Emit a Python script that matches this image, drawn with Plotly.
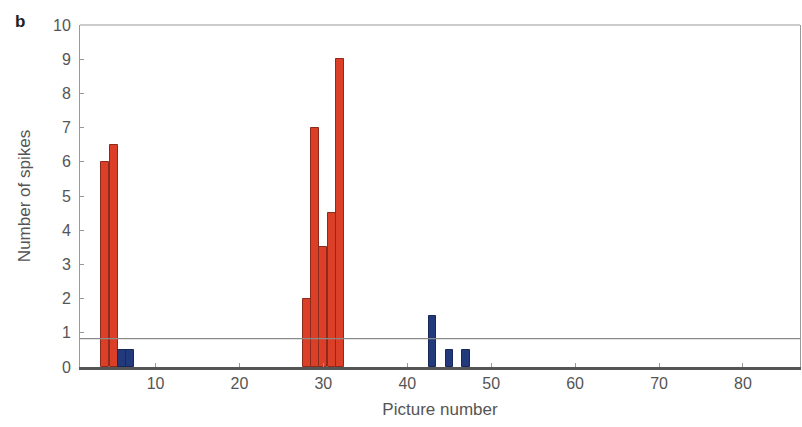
import plotly.graph_objects as go

red_x = [4, 5, 28, 29, 30, 31, 32]
red_y = [6, 6.5, 2, 7, 3.5, 4.5, 9]
blue_x = [6, 7, 43, 45, 47]
blue_y = [0.5, 0.5, 1.5, 0.5, 0.5]
blue_w = [0.95, 0.95, 0.75, 0.85, 0.85]
threshold = 0.83
x_ticks = [10, 20, 30, 40, 50, 60, 70, 80]
y_ticks = list(range(0, 11))

fig = go.Figure()
fig.add_trace(go.Bar(x=red_x, y=red_y, width=0.97,
                     marker=dict(color="#dc3f28", line=dict(color="#8c2a1c", width=1))))
fig.add_trace(go.Bar(x=blue_x, y=blue_y, width=blue_w,
                     marker=dict(color="#22397c", line=dict(color="#18285a", width=1))))

fig.add_hline(y=threshold, line=dict(color="#8a8a8a", width=1.2))
fig.add_shape(type="line", xref="paper", yref="paper", x0=0, x1=1, y0=1, y1=1,
              line=dict(color="#999999", width=1))

tick_font = dict(family="Liberation Sans, Arial, sans-serif", size=16, color="#555555")
title_font = dict(family="Liberation Sans, Arial, sans-serif", size=17, color="#555555")
fig.update_layout(
    width=802, height=427,
    margin=dict(l=80, r=2, t=25, b=60, autoexpand=False),
    paper_bgcolor="white", plot_bgcolor="white",
    showlegend=False, barmode="overlay", bargap=0,
    font=tick_font,
    xaxis=dict(range=[1, 86.8], tickvals=x_ticks, ticks="inside", ticklen=4,
               tickcolor="#999999", showgrid=False, zeroline=False, automargin=False,
               showline=True, linecolor="#555555", linewidth=3,
               title=dict(text="Picture number", standoff=12, font=title_font), tickfont=tick_font),
    yaxis=dict(range=[0, 10], tickvals=y_ticks, ticks="inside", ticklen=4,
               tickcolor="#999999", showgrid=False, zeroline=False, automargin=False,
               showline=True, linecolor="#999999", linewidth=1, mirror=True,
               ticklabelstandoff=5,
               title=dict(text="Number of spikes", standoff=18, font=title_font),
               tickfont=tick_font),
)
fig.add_annotation(text="<b>b</b>", xref="paper", yref="paper", x=-0.083, y=1.01,
                   xanchor="center", yanchor="middle", showarrow=False,
                   font=dict(family="Liberation Sans, Arial, sans-serif", size=17, color="#222222"))

fig.write_html("out.html", config={"displayModeBar": False},
               post_script="document.body.style.margin='0';document.body.style.overflow='hidden';")
